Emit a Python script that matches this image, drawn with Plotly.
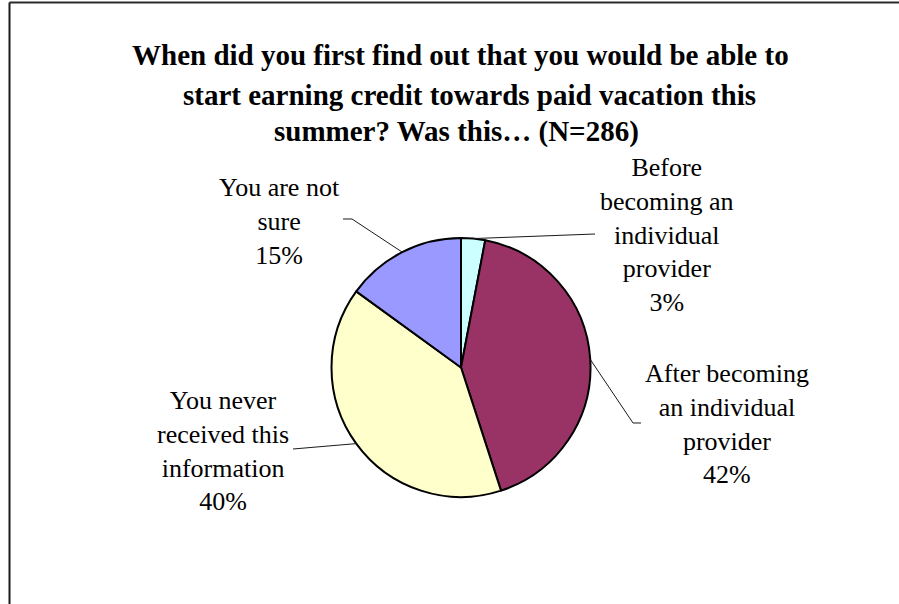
import math
import plotly.graph_objects as go

# Survey answers (share of respondents, %)
categories = [
    "Before becoming an individual provider",
    "After becoming an individual provider",
    "You never received this information",
    "You are not sure",
]
values = [3, 42, 40, 15]
label_lines = [
    ["Before", "becoming an", "individual", "provider"],
    ["After becoming", "an individual", "provider"],
    ["You never", "received this", "information"],
    ["You are not", "sure"],
]
colors = ["#CCFFFF", "#993366", "#FFFFCC", "#9999FF"]

title_lines = [
    "When did you first find out that you would be able to",
    "start earning credit towards paid vacation this",
    "summer? Was this\u2026 (N=286)",
]

SERIF = "'Times New Roman', 'Liberation Serif', Times, serif"

W, H = 899, 604
CX, CY, R = 461.0, 367.5, 129.5      # pie centre and radius in pixels

# title line centres (pixels)
title_pos = [(461, 55), (469, 95), (456, 131)]
# label block centres and leader-line bends (pixels)
label_pos = [(667, 235), (727, 424), (223, 451), (279, 221)]
leader_bend = [[(595, 234)], [(633, 423), (641, 423)], [(293, 449)], [(352, 219), (343, 219)]]


def px(x):
    return x / W


def py(y):
    return 1 - y / H


fig = go.Figure(go.Pie(
    labels=categories,
    values=values,
    sort=False,
    direction="clockwise",
    rotation=0,
    marker=dict(colors=colors, line=dict(color="#000000", width=2)),
    textinfo="none",
    hoverinfo="skip",
    showlegend=False,
    domain=dict(x=[px(CX - R), px(CX + R)], y=[py(CY + R), py(CY - R)]),
))

shapes = []
annotations = []
total = sum(values)
cum = 0
for i, v in enumerate(values):
    mid = (cum + v / 2) / total * 2 * math.pi
    cum += v
    sx, sy = CX + R * math.sin(mid), CY - R * math.cos(mid)
    pts = [(sx, sy)] + leader_bend[i]
    path = "M " + " L ".join(f"{px(x):.5f},{py(y):.5f}" for x, y in pts)
    shapes.append(dict(type="path", xref="paper", yref="paper", path=path,
                       line=dict(color="#1a1a1a", width=1)))
    text = "<br>".join(label_lines[i] + [f"{v}%"])
    lx, ly = label_pos[i]
    annotations.append(dict(x=px(lx), y=py(ly), xref="paper", yref="paper",
                            text=text, showarrow=False, xanchor="center", yanchor="middle",
                            align="center",
                            font=dict(family=SERIF, size=26, color="#000000")))

for line, (tx, ty) in zip(title_lines, title_pos):
    annotations.append(dict(x=px(tx), y=py(ty), xref="paper", yref="paper",
                            text="<b>" + line + "</b>", showarrow=False,
                            xanchor="center", yanchor="middle", align="center",
                            font=dict(family=SERIF, size=29, color="#000000")))

# chart-area frame (top and left edges)
shapes.append(dict(type="line", xref="paper", yref="paper", x0=px(9.5), x1=1.0,
                   y0=py(2.5), y1=py(2.5), line=dict(color="#2b2b2b", width=2)))
shapes.append(dict(type="line", xref="paper", yref="paper", x0=px(9.5), x1=px(9.5),
                   y0=py(2.5), y1=0, line=dict(color="#1a1a1a", width=2)))

fig.update_layout(
    width=W, height=H,
    margin=dict(l=0, r=0, t=0, b=0),
    paper_bgcolor="#ffffff",
    plot_bgcolor="#ffffff",
    font=dict(family=SERIF),
    shapes=shapes,
    annotations=annotations,
)

fig.write_html("out.html")
